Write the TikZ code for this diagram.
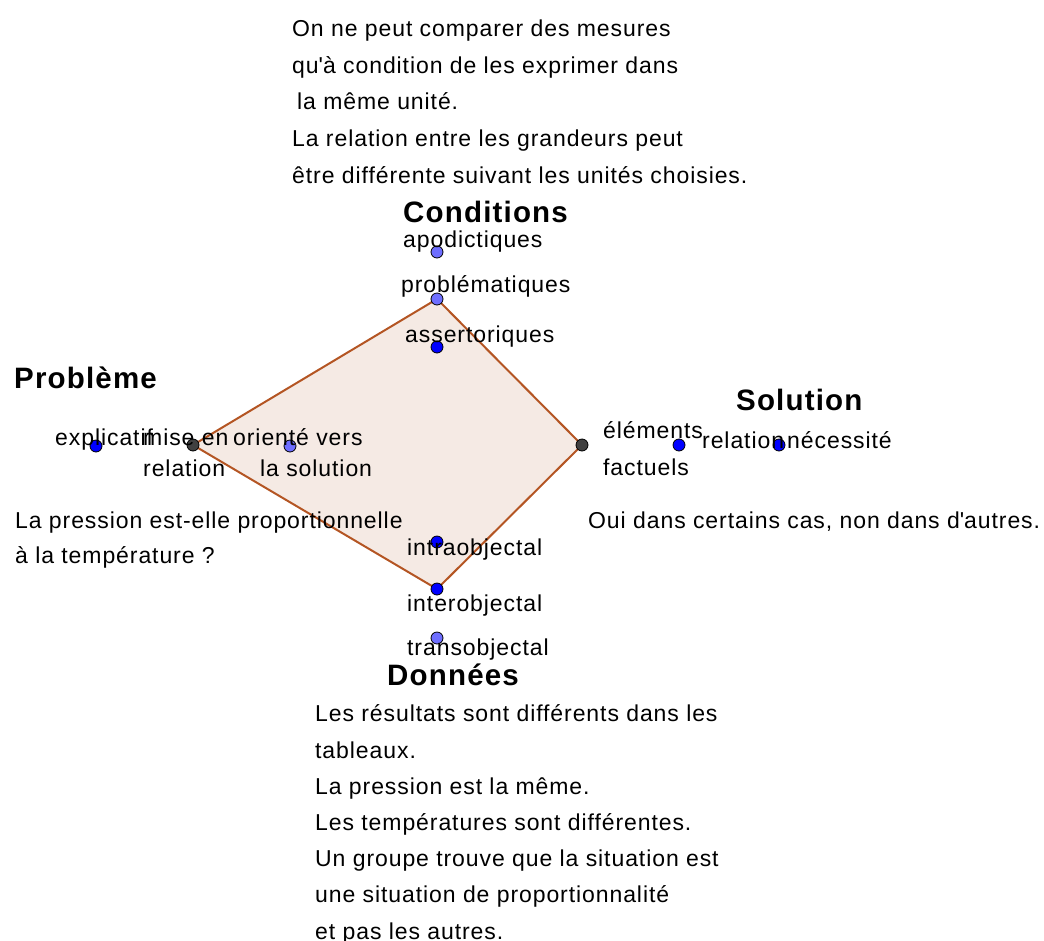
\documentclass[tikz,border=0pt]{standalone}
\usepackage{fontspec}
\setmainfont{Liberation Sans}[LetterSpace=4]
\usetikzlibrary{positioning}

\definecolor{polyline}{RGB}{180,85,35}
\definecolor{polyfill}{RGB}{245,234,228}
\definecolor{freecolor}{RGB}{0,0,255}
\definecolor{pathcolor}{RGB}{110,110,255}
\definecolor{depcolor}{RGB}{64,64,64}

\tikzset{
  point/.style={
    circle,
    draw=black,
    line width=0.8pt,
    inner sep=0pt,
    minimum size=12pt,
    fill=#1
  },
  label/.style={
    anchor=base west,
    inner sep=0pt,
    align=left,
    font=\fontsize{23}{31}\selectfont
  },
  textblock/.style={
    anchor=base west,
    inner sep=0pt,
    align=left,
    font=\fontsize{23}{36.6}\selectfont
  },
  pole/.style={
    anchor=base west,
    inner sep=0pt,
    font=\fontsize{29.5}{34}\selectfont\bfseries
  },
  quad/.style={
    draw=polyline,
    fill=polyfill,
    line width=2pt,
    line join=round
  }
}

\begin{document}
\begin{tikzpicture}[x=1pt, y=-1pt]
  \useasboundingbox (0,0) rectangle (1044,940);

  % Vertices of the quadrilateral
  \coordinate (mise) at (193,445);
  \coordinate (probl) at (437,299);
  \coordinate (elem) at (582,445);
  \coordinate (inter) at (437,589);

  \filldraw[quad] (mise) -- (probl) -- (elem) -- (inter) -- cycle;

  % Conditions
  \node[point=pathcolor] (apodpt) at (437,252) {};
  \node[point=pathcolor] (problpt) at (probl) {};
  \node[point=freecolor] (assertpt) at (437,347) {};
  \node[pole] (conditions) at (403,222) {Conditions};
  \node[label] (apodlab) at (403,247) {apodictiques};
  \node[label] (probllab) at (401,292) {problématiques};
  \node[label] (assertlab) at (405,342) {assertoriques};

  % Probleme (base of a multi-line node = its last line)
  \node[point=freecolor] (explpt) at (96,446) {};
  \node[point=depcolor] (misept) at (mise) {};
  \node[point=pathcolor] (orientpt) at (290,446) {};
  \node[pole] (probleme) at (14,388) {Problème};
  \node[label] (expllab) at (55,445) {explicatif};
  \node[label] (miselab) at (143,476) {mise en\\relation};
  \node[label] (orientlab) at (233,476) {orienté vers\\\hspace*{27pt}la solution};

  % Solution
  \node[point=depcolor] (elempt) at (elem) {};
  \node[point=freecolor] (relatpt) at (679,445) {};
  \node[point=freecolor] (necesspt) at (779,445) {};
  \node[pole] (solution) at (736,410) {Solution};
  \node[label, font=\fontsize{23}{37}\selectfont] (elemlab) at (603,475) {éléments\\factuels};
  \node[label] (relatlab) at (702,448) {relation};
  \node[label] (necesslab) at (787,448) {nécessité};

  % Donnees
  \node[point=freecolor] (intrapt) at (437,542) {};
  \node[point=freecolor] (interpt) at (inter) {};
  \node[point=pathcolor] (transpt) at (437,638) {};
  \node[label] (intralab) at (407,555) {intraobjectal};
  \node[label] (interlab) at (407,611) {interobjectal};
  \node[label] (translab) at (407,655) {transobjectal};
  \node[pole] (donnees) at (387,685) {Données};

  % Texts
  \node[textblock] (condtext) at (292,183) {On ne peut comparer des mesures\\
    qu\textquotesingle à condition de les exprimer dans\\
    \hspace*{5pt}la même unité.\\
    La relation entre les grandeurs peut\\
    être différente suivant les unités choisies.};
  \node[textblock, font=\fontsize{23}{35}\selectfont] (probtext) at (15,563) {La pression est-elle proportionnelle\\
    à la température ?};
  \node[textblock] (soltext) at (588,528) {Oui dans certains cas, non dans d\textquotesingle autres.};
  \node[textblock, font=\fontsize{23}{36.2}\selectfont] (dontext) at (315,939) {Les résultats sont différents dans les\\
    tableaux.\\
    La pression est la même.\\
    Les températures sont différentes.\\
    Un groupe trouve que la situation est\\
    une situation de proportionnalité\\
    et pas les autres.};

\end{tikzpicture}
\end{document}
